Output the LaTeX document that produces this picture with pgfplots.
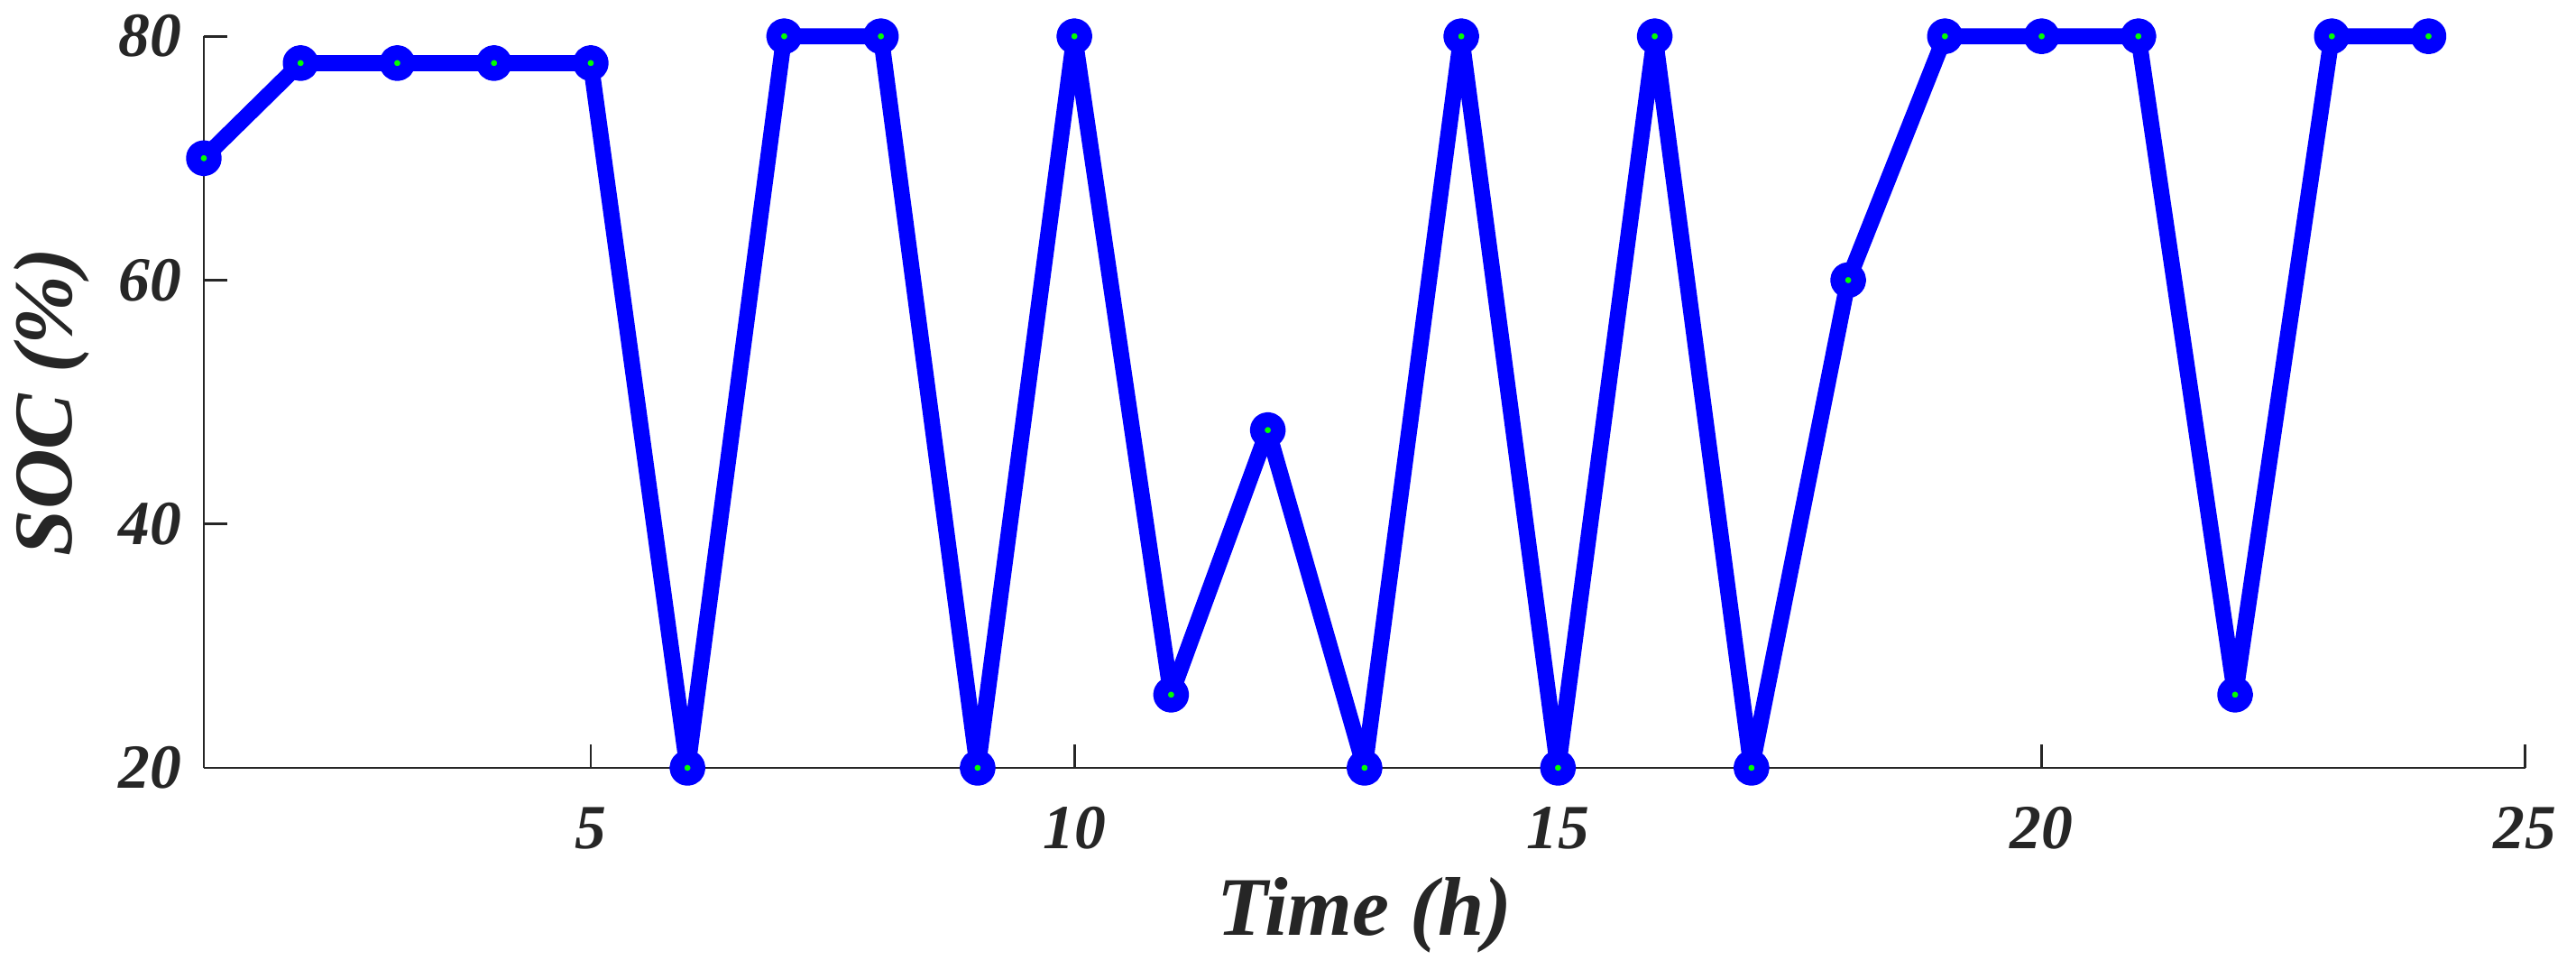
\documentclass[border=0pt]{standalone}
\usepackage{fontspec}
\setmainfont{Liberation Serif}
\usepackage{pgfplots}
\pgfplotsset{compat=1.18}
\definecolor{axgray}{rgb}{0.15,0.15,0.15}
\definecolor{mblue}{rgb}{0,0,1}
\definecolor{mgreen}{rgb}{0,1,0}
\begin{document}
\begin{tikzpicture}
\begin{axis}[
  scale only axis,
  width=362.5pt, height=114.2pt,
  xmin=1, xmax=25, ymin=20, ymax=80,
  axis x line=bottom, axis y line=left,
  axis line style={draw=axgray, line width=0.4pt, -},
  xtick={5,10,15,20,25}, ytick={20,40,60,80},
  tick style={draw=axgray, line width=0.4pt},
  tick align=inside, major tick length=3.7pt,
  /pgf/number format/assume math mode=true,
  ticklabel style={font=\fontsize{9.8}{11}\selectfont\bfseries\itshape, text=axgray},
  xticklabel style={yshift=-2.6pt},
  xlabel={Time (h)}, ylabel={SOC (\%)},
  xlabel style={font=\fontsize{13}{15}\selectfont\bfseries\itshape, text=axgray,
    at={(axis description cs:0.5,0)}, anchor=base, yshift=-26.2pt},
  ylabel style={font=\fontsize{13}{15}\selectfont\bfseries\itshape, text=axgray,
    at={(axis description cs:-0.0657,0.5)}, anchor=center},
  clip=false,
]
\addplot[draw=mblue, line width=2.5pt, line join=round,
  mark=*, mark size=1.65pt,
  mark options={draw=mblue, fill=mgreen, line width=2.3pt}]
coordinates {
(1,70.0) (2,77.8) (3,77.8) (4,77.8) (5,77.8) (6,20) (7,80) (8,80)
(9,20) (10,80) (11,26.0) (12,47.7) (13,20) (14,80) (15,20) (16,80)
(17,20) (18,60) (19,80) (20,80) (21,80) (22,26.0) (23,80) (24,80)
};
\end{axis}
\pgfresetboundingbox
\path (current axis.south west) ++(-31.83pt,-31.55pt) coordinate (bbA);
\path (current axis.south west) ++(370.42pt,119.86pt) coordinate (bbB);
\useasboundingbox (bbA) rectangle (bbB);
\end{tikzpicture}
\end{document}
